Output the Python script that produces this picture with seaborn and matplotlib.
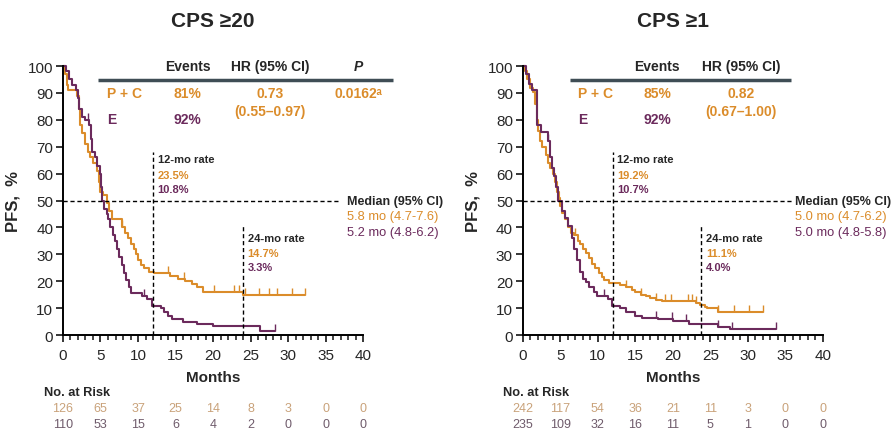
import matplotlib
matplotlib.use('Agg')
import matplotlib.pyplot as plt
import matplotlib.transforms as mtransforms
import numpy as np
import seaborn as sns

# ---- data ----
# CPS >= 20
pc20_t = [0, 0.3, 0.5, 0.7, 1.9, 2.1, 2.3, 2.6, 3.0, 3.3, 3.6, 4.0, 4.5, 4.8, 5.0, 5.3, 5.8, 6.1, 6.5,
          7.8, 8.2, 8.7, 9.1, 9.4, 9.7, 10.0, 10.4, 10.8, 11.5, 12.1, 14.3, 15.3, 16.3, 17.2, 17.8, 18.7, 24.0]
pc20_s = [100, 97, 93, 91, 89, 84, 78, 75, 71, 68, 66, 64, 61, 57, 53, 52, 49, 46, 43,
          40, 38, 36, 34, 32, 30, 28, 26, 25, 23.5, 23, 22, 21, 20, 19, 18, 16, 14.7]
pc20_end = 32.3
pc20_cens = [7.8, 14.0, 16.1, 20.1, 22.8, 23.4, 24.2, 26.1, 27.4, 28.5, 30.5, 32.3]

e20_t = [0, 0.4, 0.8, 1.2, 1.7, 2.0, 2.2, 2.5, 3.0, 3.5, 3.7, 3.9, 4.3, 4.6, 4.9, 5.1, 5.2, 5.5, 5.8,
         6.0, 6.3, 6.6, 6.9, 7.2, 7.5, 7.8, 8.1, 8.4, 8.8, 9.1, 10.5, 11.2, 11.8, 13.0, 13.5, 14.0, 14.5,
         16.0, 17.8, 20.0, 26.3]
e20_s = [100, 98, 95, 93, 91, 88, 84, 81, 80, 78, 73, 68, 66, 63, 60, 55, 50, 47, 45,
         43, 40, 37, 35, 32, 29, 26, 23, 20.5, 18, 15.5, 14.5, 13.4, 10.8, 10, 8.5, 7, 6,
         5, 4, 3.3, 1.5]
e20_end = 28.3
e20_cens = [3.4, 10.8, 28.3]

# CPS >= 1
pc1_t = [0, 0.3, 0.6, 1.0, 1.4, 1.7, 1.9, 2.1, 2.3, 2.6, 3.1, 3.4, 3.7, 4.0, 4.3, 4.6, 4.8, 5.0, 5.2,
         5.6, 6.0, 6.4, 6.9, 7.4, 7.7, 8.1, 8.5, 8.9, 9.3, 9.6, 10.1, 10.5, 10.8, 11.5, 13.0, 13.7, 14.5,
         15.0, 15.8, 16.4, 17.0, 17.7, 18.5, 23.1, 23.6, 24.3, 24.6, 26.0]
pc1_s = [100, 98, 95, 92, 90.5, 86, 80, 76, 72, 70, 67, 64, 62, 60, 57, 53, 51, 48, 45.5,
         43, 40, 38, 37, 35, 34, 32, 30.5, 28.5, 26.5, 25, 23, 21.5, 20.5, 19.2, 18.5, 17.8, 16.8,
         16, 15, 14.5, 13.8, 13.2, 12.5, 11.8, 11.1, 10.5, 10, 8.5]
pc1_end = 32.0
pc1_cens = [7.0, 13.8, 15.8, 17.8, 18.9, 19.8, 22.0, 22.5, 23.1, 26.0, 28.2, 30.2, 32.0]

e1_t = [0, 0.4, 0.8, 1.3, 1.9, 2.4, 3.4, 3.6, 3.9, 4.2, 4.5, 4.75, 5.2, 5.6, 6.1, 6.6, 6.9, 7.3, 7.7,
        8.1, 8.4, 8.9, 9.5, 9.9, 11.3, 11.9, 13.0, 13.7, 15.0, 15.9, 18.0, 20.0, 22.2, 26.0, 27.6]
e1_s = [100, 97, 93.5, 91, 78, 75.5, 72, 66, 62, 59, 55, 50, 46, 43.5, 40.5, 36, 32, 28, 23.5,
        21, 19.7, 17.8, 16, 14.6, 13.4, 10.7, 10, 8.5, 7.2, 6.5, 5.9, 5.3, 4.0, 2.9, 2.2]
e1_end = 33.8
e1_cens = [3.4, 10.8, 17.8, 19.9, 21.8, 26.0, 27.9, 33.8]

risk_months = [0, 5, 10, 15, 20, 25, 30, 35, 40]
risk20_pc = [126, 65, 37, 25, 14, 8, 3, 0, 0]
risk20_e = [110, 53, 15, 6, 4, 2, 0, 0, 0]
risk1_pc = [242, 117, 54, 36, 21, 11, 3, 0, 0]
risk1_e = [235, 109, 32, 16, 11, 5, 1, 0, 0]

ORANGE = '#DB8C2A'
PURPLE = '#6B2A5C'
ORANGE_LT = '#C9A27A'
PURPLE_LT = '#6F5B6B'
HEADER = '#3F4D55'


def draw_km(ax, t, s, end, cens, color):
    tt = np.append(t, end)
    ss = np.append(s, s[-1])
    sns.lineplot(x=tt, y=ss, drawstyle='steps-post', color=color, lw=1.5,
                 ax=ax, clip_on=False, sort=False, estimator=None)
    idx = np.searchsorted(tt, cens, side='right') - 1
    idx = np.clip(idx, 0, len(ss) - 1)
    ax.plot(cens, ss[idx], ls='none', marker=2, ms=5, mew=1.0, color=color, clip_on=False)


def panel(fig, left, title, curves, events, hr, hr_ci, pval, rates12, rates24, medians,
          risk_pc, risk_e, col):
    ax = fig.add_axes([left, 0.2204, 0.3363, 0.6241])
    for (t, s, end, cens, color) in curves:
        draw_km(ax, t, s, end, cens, color)
    ax.set_xlim(0, 40)
    ax.set_ylim(0, 100)
    ax.set_xticks(range(0, 41, 5))
    ax.set_xticks(range(0, 41, 1), minor=True)
    ax.set_yticks(range(0, 101, 10))
    ax.tick_params(axis='both', which='major', length=5, width=1.3, labelsize=11, pad=2)
    ax.tick_params(axis='x', which='major', pad=4)
    ax.tick_params(axis='x', which='minor', length=3.5, width=1.2)
    for sp in ['top', 'right']:
        ax.spines[sp].set_visible(False)
    for sp in ['left', 'bottom']:
        ax.spines[sp].set_linewidth(1.4)
        ax.spines[sp].set_color('black')
    ax.set_xlabel('Months', fontsize=11, fontweight='bold', labelpad=6)
    ax.set_ylabel('PFS,  %', fontsize=12, fontweight='bold', labelpad=5)

    fig.text(left + 0.168, 0.949, title, ha='center', va='center', fontsize=15, fontweight='bold')

    # reference lines
    ax.plot([0, col['mx']], [50, 50], ls='--', color='black', lw=1, dashes=(3, 2), clip_on=False)
    ax.plot([12, 12], [0, 68], ls='--', color='black', lw=1, dashes=(3, 2))
    ax.plot([col['x24'], col['x24']], [0, 40.5], ls='--', color='black', lw=1, dashes=(3, 2))

    # table
    fs = 10
    ax.plot([col['l0'], col['l1']], [94.9, 94.9], color=HEADER, lw=2.5, clip_on=False,
            solid_capstyle='butt')
    ax.text(col['ev'], 100, 'Events', ha='center', va='center', fontsize=fs, fontweight='bold')
    ax.text(col['hr'], 100, 'HR (95% CI)', ha='center', va='center', fontsize=fs, fontweight='bold')
    ax.text(col['lab'], 90, 'P + C', ha='left', va='center', fontsize=fs, fontweight='bold', color=ORANGE)
    ax.text(col['lab'], 80.3, 'E', ha='left', va='center', fontsize=fs, fontweight='bold', color=PURPLE)
    ax.text(col['ev'], 90, events[0], ha='center', va='center', fontsize=fs, fontweight='bold', color=ORANGE)
    ax.text(col['ev'], 80.3, events[1], ha='center', va='center', fontsize=fs, fontweight='bold', color=PURPLE)
    ax.text(col['hr'], 90, hr, ha='center', va='center', fontsize=fs, fontweight='bold', color=ORANGE)
    ax.text(col['hr'], 83.3, hr_ci, ha='center', va='center', fontsize=fs, fontweight='bold', color=ORANGE)
    if pval is not None:
        ax.text(39.3, 100, 'P', ha='center', va='center', fontsize=fs, fontweight='bold', style='italic')
        ax.text(39.3, 90, pval, ha='center', va='center', fontsize=fs, fontweight='bold', color=ORANGE)

    # rates
    rs = 8
    x12 = 12.6
    ax.text(x12, 65.4, '12-mo rate', ha='left', va='center', fontsize=rs, fontweight='bold')
    ax.text(x12, 59.6, rates12[0], ha='left', va='center', fontsize=rs, fontweight='bold', color=ORANGE)
    ax.text(x12, 54.2, rates12[1], ha='left', va='center', fontsize=rs, fontweight='bold', color=PURPLE)
    x24 = col['x24'] + 0.6
    ax.text(x24, 36, '24-mo rate', ha='left', va='center', fontsize=rs, fontweight='bold')
    ax.text(x24, 30.4, rates24[0], ha='left', va='center', fontsize=rs, fontweight='bold', color=ORANGE)
    ax.text(x24, 25.2, rates24[1], ha='left', va='center', fontsize=rs, fontweight='bold', color=PURPLE)

    # medians
    ax.text(col['mt'], 50, 'Median (95% CI)', ha='left', va='center', fontsize=9, fontweight='bold',
            clip_on=False)
    ax.text(col['mt'], 44.3, medians[0], ha='left', va='center', fontsize=9.3, color=ORANGE, clip_on=False)
    ax.text(col['mt'], 38.4, medians[1], ha='left', va='center', fontsize=9.3, color=PURPLE, clip_on=False)

    # numbers at risk
    fig.text(col['nr'], 0.088, 'No. at Risk', ha='left', va='center', fontsize=9.2, fontweight='bold')
    trans = mtransforms.blended_transform_factory(ax.transData, fig.transFigure)
    for m, a, b in zip(risk_months, risk_pc, risk_e):
        ax.text(m, 0.051, str(a), transform=trans, ha='center', va='center', fontsize=9, color=ORANGE_LT)
        ax.text(m, 0.013, str(b), transform=trans, ha='center', va='center', fontsize=9, color=PURPLE_LT)
    return ax


sns.set_style('ticks')
plt.rcParams['font.family'] = ['Liberation Sans', 'DejaVu Sans']

fig = plt.figure(figsize=(8.93, 4.31), dpi=100)

panel(fig, 0.0705, 'CPS ≥20',
      [(pc20_t, pc20_s, pc20_end, pc20_cens, ORANGE), (e20_t, e20_s, e20_end, e20_cens, PURPLE)],
      ['81%', '92%'], '0.73', '(0.55–0.97)', '0.0162ᵃ',
      ['23.5%', '10.8%'], ['14.7%', '3.3%'], ['5.8 mo (4.7-7.6)', '5.2 mo (4.8-6.2)'],
      risk20_pc, risk20_e,
      dict(mx=36.7, x24=24.0, l0=4.7, l1=44.0, ev=16.6, hr=27.6, lab=5.9, mt=37.8, nr=0.0493))

panel(fig, 0.5853, 'CPS ≥1',
      [(pc1_t, pc1_s, pc1_end, pc1_cens, ORANGE), (e1_t, e1_s, e1_end, e1_cens, PURPLE)],
      ['85%', '92%'], '0.82', '(0.67–1.00)', None,
      ['19.2%', '10.7%'], ['11.1%', '4.0%'], ['5.0 mo (4.7-6.2)', '5.0 mo (4.8-5.8)'],
      risk1_pc, risk1_e,
      dict(mx=36.0, x24=23.8, l0=6.3, l1=35.8, ev=17.9, hr=29.1, lab=7.35, mt=36.3, nr=0.563))

fig.savefig('out.png', dpi=100)
